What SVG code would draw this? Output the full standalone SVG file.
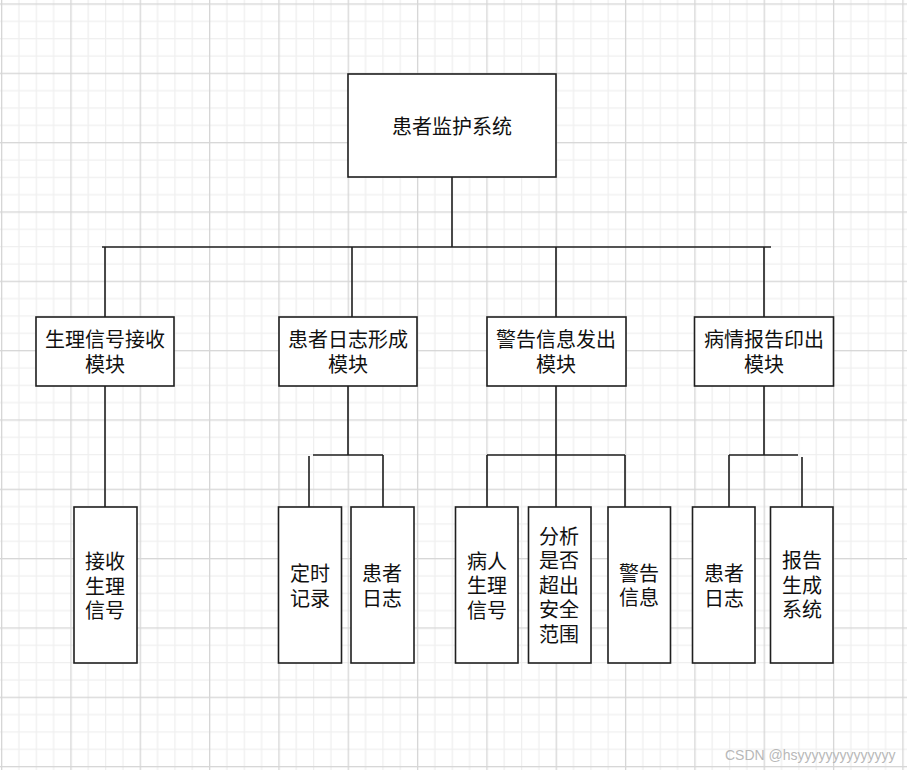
<svg xmlns="http://www.w3.org/2000/svg" width="907" height="770" viewBox="0 0 907 770">
<style>
.box{fill:#fff;stroke:#1f1f1f;stroke-width:1.6}
.t{font-family:"Microsoft YaHei","Noto Sans CJK SC","Noto Sans",sans-serif;font-size:20px;fill:#111;text-anchor:middle;dominant-baseline:central}
.c{fill:none;stroke:#1f1f1f;stroke-width:1.6}
.wm{font-family:"Liberation Sans",Arial,sans-serif;font-size:14px;fill:#b8b8b8}
</style>
<defs>
<pattern id="grid" patternUnits="userSpaceOnUse" x="1" y="3.4" width="69.33" height="69.33">
<rect width="69.33" height="69.33" fill="#fff"/>
<path d="M17.93 0V69.33M35.27 0V69.33M52.6 0V69.33M0 17.93H69.33M0 35.27H69.33M0 52.6H69.33" stroke="#efefef" stroke-width="1.2"/>
<rect x="0" y="0" width="1.3" height="69.33" fill="#d6d6d6"/>
<rect x="0" y="0" width="69.33" height="1.3" fill="#d6d6d6"/>
</pattern>
</defs>
<rect width="907" height="770" fill="url(#grid)"/>

<g id="connectors">
<path class="c" d="M452 177V247M102 247H771M105 247V317M352 247V317M556 247V317M764 247V317"/>
<path class="c" d="M105 386V507"/>
<path class="c" d="M348 386V455M313 455H383M309 456V507M383 455V507"/>
<path class="c" d="M556 386V507M487 455H625M487 455V507M625 455V507"/>
<path class="c" d="M764 386V455M729 455H798M729 455V507M802 457V507"/>
</g>

<g id="root"><rect class="box" x="348" y="74" width="208" height="103"/><text class="t" x="452" y="125">患者监护系统</text></g>

<g id="m1"><rect class="box" x="36" y="317" width="138" height="69"/><text class="t" x="105" y="338">生理信号接收</text><text class="t" x="105" y="363">模块</text></g>
<g id="m2"><rect class="box" x="279" y="317" width="138" height="69"/><text class="t" x="348" y="338">患者日志形成</text><text class="t" x="348" y="363">模块</text></g>
<g id="m3"><rect class="box" x="487" y="317" width="139" height="69"/><text class="t" x="556" y="338">警告信息发出</text><text class="t" x="556" y="363">模块</text></g>
<g id="m4"><rect class="box" x="694.5" y="317" width="139" height="69"/><text class="t" x="764" y="338">病情报告印出</text><text class="t" x="764" y="363">模块</text></g>

<g id="n1"><rect class="box" x="74" y="507" width="63" height="156"/><text class="t" x="105" y="560">接收</text><text class="t" x="105" y="585">生理</text><text class="t" x="105" y="609">信号</text></g>
<g id="n2"><rect class="box" x="278.5" y="507" width="63" height="156"/><text class="t" x="310" y="572">定时</text><text class="t" x="310" y="597">记录</text></g>
<g id="n3"><rect class="box" x="351" y="507" width="63" height="156"/><text class="t" x="382" y="572">患者</text><text class="t" x="382" y="597">日志</text></g>
<g id="n4"><rect class="box" x="455.5" y="507" width="62.5" height="156"/><text class="t" x="487" y="560">病人</text><text class="t" x="487" y="584.5">生理</text><text class="t" x="487" y="609">信号</text></g>
<g id="n5"><rect class="box" x="528.5" y="507" width="62.5" height="156"/><text class="t" x="559" y="535">分析</text><text class="t" x="559" y="559.5">是否</text><text class="t" x="559" y="584">超出</text><text class="t" x="559" y="608.5">安全</text><text class="t" x="559" y="633">范围</text></g>
<g id="n6"><rect class="box" x="608" y="507" width="62.5" height="156"/><text class="t" x="639" y="572">警告</text><text class="t" x="639" y="596.5">信息</text></g>
<g id="n7"><rect class="box" x="692.5" y="507" width="62.5" height="156"/><text class="t" x="724" y="572.5">患者</text><text class="t" x="724" y="597">日志</text></g>
<g id="n8"><rect class="box" x="770.5" y="507" width="62.5" height="156"/><text class="t" x="802" y="559.5">报告</text><text class="t" x="802" y="584">生成</text><text class="t" x="802" y="608.5">系统</text></g>

<text class="wm" x="725" y="760">CSDN @hsyyyyyyyyyyyyyy</text>
</svg>
